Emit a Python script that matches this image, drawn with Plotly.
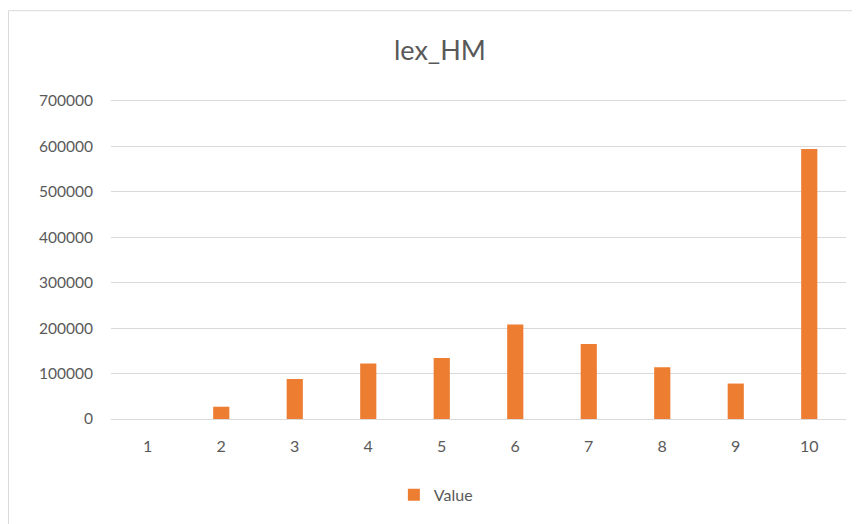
import plotly.graph_objects as go

categories = ["1", "2", "3", "4", "5", "6", "7", "8", "9", "10"]
values = [0, 27000, 88000, 122000, 134000, 208000, 165000, 114000, 78000, 594000]
y_ticks = [0, 100000, 200000, 300000, 400000, 500000, 600000, 700000]

grey_text = "#595959"

fig = go.Figure(
    go.Bar(
        x=categories,
        y=values,
        name="Value",
        marker=dict(color="#ED7D31", line=dict(width=0)),
        showlegend=True,
    )
)

# page body adds an 8px margin, so the figure is sized and placed to allow for it
fig.update_layout(
    width=852,
    height=516,
    margin=dict(l=103, r=14, t=90, b=105),
    paper_bgcolor="white",
    plot_bgcolor="white",
    font=dict(family="Lato, Open Sans, sans-serif", color=grey_text, size=15),
    title=dict(
        text="lex_HM",
        x=0.507,
        xanchor="center",
        y=0.917,
        yanchor="middle",
        font=dict(size=27, color=grey_text),
    ),
    bargap=0.78,
    legend=dict(
        orientation="h",
        x=0.442,
        xanchor="center",
        y=-0.236,
        yanchor="middle",
        font=dict(size=16, color=grey_text),
    ),
    xaxis=dict(
        type="category",
        showgrid=False,
        showline=True,
        linecolor="#d9d9d9",
        linewidth=1,
        ticks="",
        ticklabelstandoff=13,
        tickfont=dict(size=16, color=grey_text),
    ),
    yaxis=dict(
        range=[0, 706000],
        tickvals=y_ticks,
        tickformat="d",
        showgrid=True,
        gridcolor="#d9d9d9",
        gridwidth=1,
        zeroline=False,
        ticks="",
        ticklabelstandoff=17,
        tickfont=dict(size=15.5, color=grey_text),
    ),
    shapes=[
        # outer chart border (top and left edges show, the rest falls off the page)
        dict(
            type="rect",
            xref="paper",
            yref="paper",
            x0=-0.1395,
            x1=1.03,
            y0=-0.36,
            y1=1.272,
            line=dict(color="#d9d9d9", width=1),
            layer="below",
        )
    ],
)

fig.write_html("out.html")
